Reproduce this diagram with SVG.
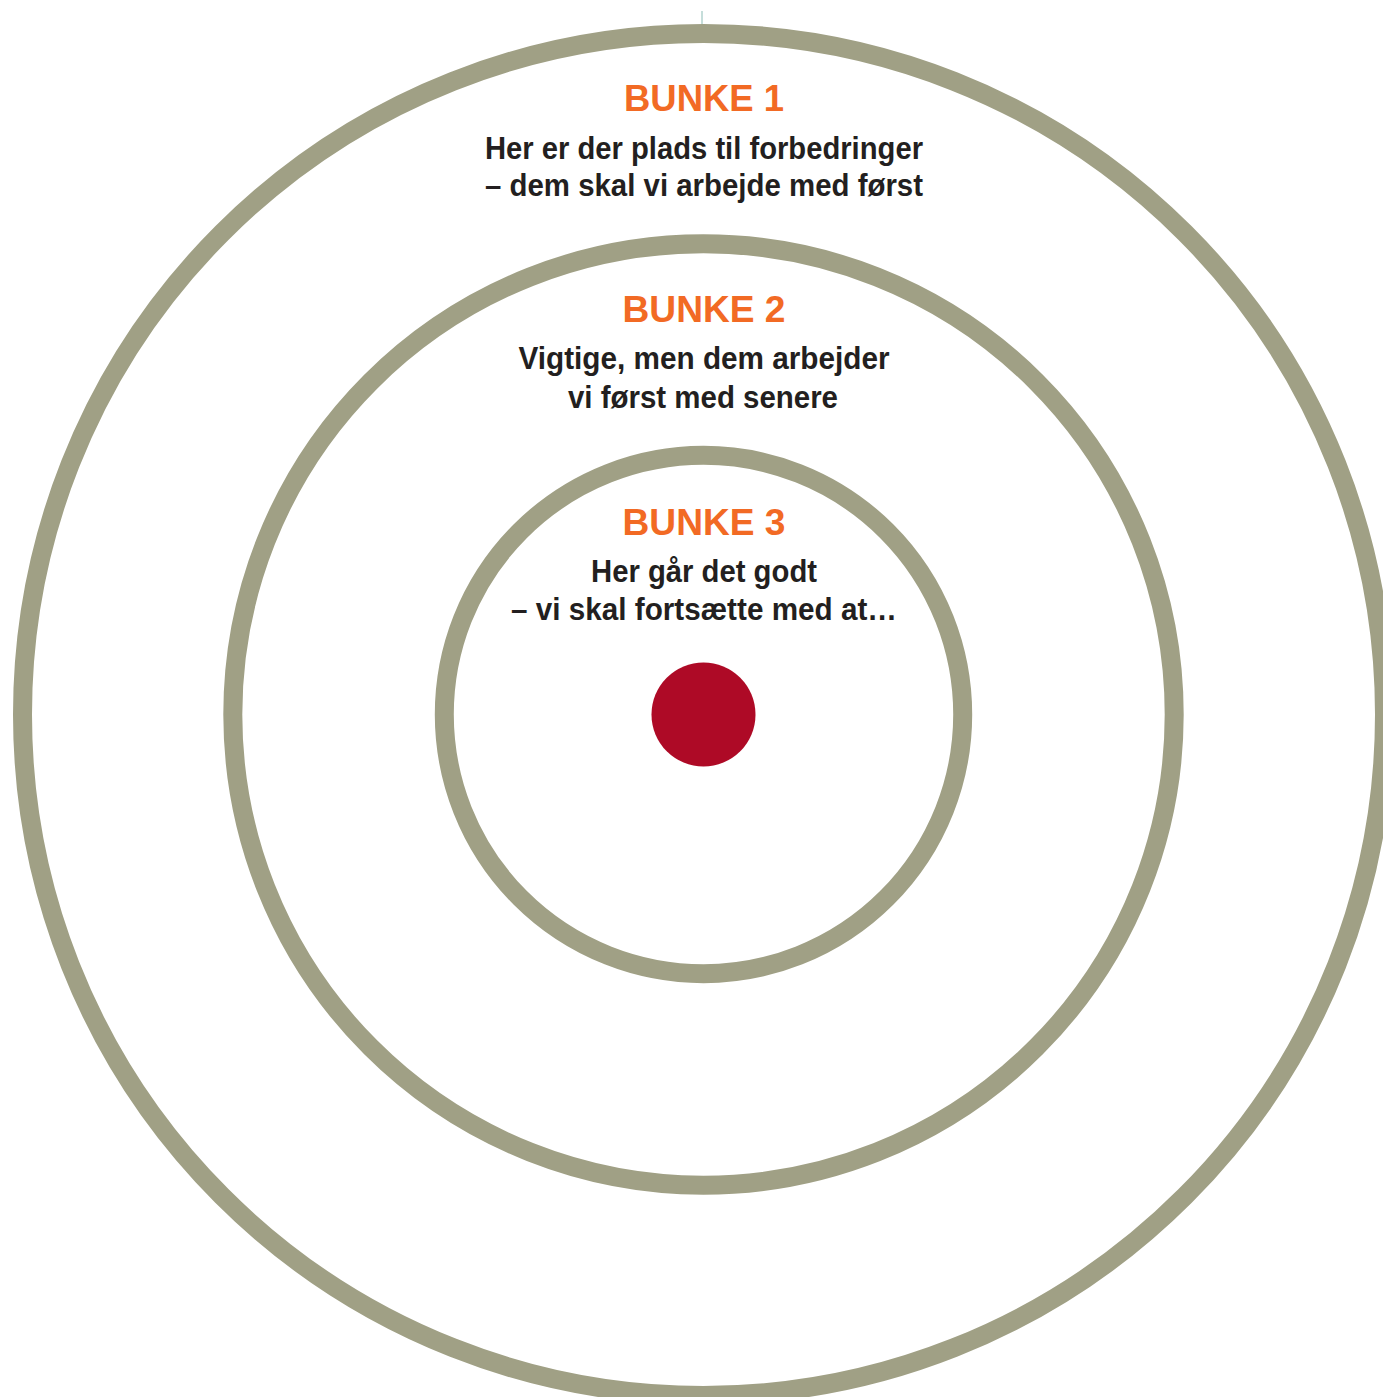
<svg xmlns="http://www.w3.org/2000/svg" width="1383" height="1397" viewBox="0 0 1383 1397">
<style>
.ring{fill:none;stroke:#A0A085;stroke-width:19}
.title{font-family:"Liberation Sans",Arial,sans-serif;font-weight:bold;font-size:37px;fill:#F26A24;text-anchor:middle}
.body{font-family:"Liberation Sans",Arial,sans-serif;font-weight:bold;font-size:31px;fill:#231F20;text-anchor:middle}
</style>
<rect width="1383" height="1397" fill="#FFFFFF"/>
<line x1="702" y1="11" x2="702" y2="25" stroke="#8BBCB5" stroke-width="1"/>
<g id="ring1">
<circle class="ring" cx="703.5" cy="714.5" r="681"/>
<text class="title" x="704" y="111" textLength="160" lengthAdjust="spacingAndGlyphs">BUNKE 1</text>
<text class="body" x="704" y="159" textLength="438" lengthAdjust="spacingAndGlyphs">Her er der plads til forbedringer</text>
<text class="body" x="704" y="196" textLength="438" lengthAdjust="spacingAndGlyphs">– dem skal vi arbejde med først</text>
</g>
<g id="ring2">
<circle class="ring" cx="703.5" cy="714.5" r="470.7"/>
<text class="title" x="704" y="322" textLength="163" lengthAdjust="spacingAndGlyphs">BUNKE 2</text>
<text class="body" x="704" y="369" textLength="371" lengthAdjust="spacingAndGlyphs">Vigtige, men dem arbejder</text>
<text class="body" x="703" y="408" textLength="270" lengthAdjust="spacingAndGlyphs">vi først med senere</text>
</g>
<g id="ring3">
<circle class="ring" cx="703.5" cy="714.5" r="259.2"/>
<text class="title" x="704" y="535" textLength="163" lengthAdjust="spacingAndGlyphs">BUNKE 3</text>
<text class="body" x="704" y="582" textLength="226" lengthAdjust="spacingAndGlyphs">Her går det godt</text>
<text class="body" x="704" y="620" textLength="386" lengthAdjust="spacingAndGlyphs">– vi skal fortsætte med at…</text>
</g>
<g id="center">
<circle cx="703.5" cy="714.5" r="52" fill="#AE0A26"/>
</g>
<g id="connectors"></g>
</svg>
